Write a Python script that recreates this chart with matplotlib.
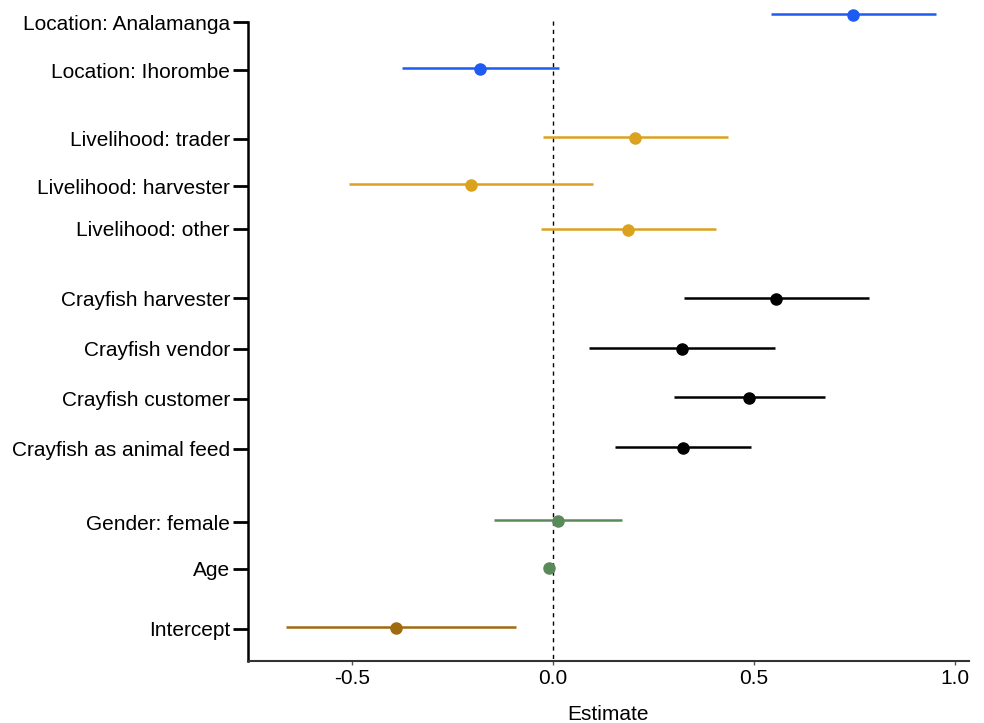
import matplotlib.pyplot as plt
from matplotlib import transforms

plt.rcParams['font.family'] = ['Liberation Sans', 'DejaVu Sans']

labels = ['Location: Analamanga', 'Location: Ihorombe',
          'Livelihood: trader', 'Livelihood: harvester', 'Livelihood: other',
          'Crayfish harvester', 'Crayfish vendor', 'Crayfish customer',
          'Crayfish as animal feed',
          'Gender: female', 'Age', 'Intercept']
estimate = [0.746, -0.182, 0.204, -0.204, 0.187, 0.555, 0.321, 0.488, 0.323,
            0.012, -0.010, -0.390]
lower = [0.542, -0.376, -0.025, -0.507, -0.030, 0.326, 0.090, 0.301, 0.154,
         -0.147, -0.016, -0.664]
upper = [0.953, 0.015, 0.435, 0.100, 0.405, 0.786, 0.552, 0.677, 0.493,
         0.172, -0.004, -0.092]
group = ['loc', 'loc', 'liv', 'liv', 'liv', 'cray', 'cray', 'cray', 'cray',
         'demo', 'demo', 'int']

colors = {'loc': '#1E5BF0', 'liv': '#DAA21E', 'cray': '#000000',
          'demo': '#5A8A5A', 'int': '#A06A10'}

# row layout (rows counted downward, groups separated by gaps)
tick_rows = [22, 70, 139, 186, 229, 298, 349, 399, 449, 522, 569, 629]
mark_rows = [14, 68, 137, 184, 229, 298, 348, 397, 447, 520, 567, 627]

fig = plt.figure(figsize=(9.84, 7.23), dpi=100)
ax = fig.add_axes([248 / 984, 1 - 661 / 723, (969 - 248) / 984, (661 - 6) / 723])

for i in range(len(labels)):
    c = colors[group[i]]
    ax.plot([lower[i], upper[i]], [mark_rows[i], mark_rows[i]], color=c, lw=1.8,
            solid_capstyle='butt', zorder=2)
    ax.plot(estimate[i], mark_rows[i] + 1, 'o', color=c, ms=8, zorder=3)

ax.plot([0, 0], [21, 661], ls=(0, (3, 3)), color='black', lw=1, zorder=1)

ax.set_xlim((248 - 553) / 402, (969 - 553) / 402)
ax.set_ylim(661, 6)

ax.set_yticks(tick_rows)
ax.set_yticklabels(labels, fontsize=15)
ax.set_xticks([-0.5, 0.0, 0.5, 1.0])
ax.set_xticklabels(['-0.5', '0.0', '0.5', '1.0'], fontsize=15)
ax.set_xlabel('Estimate', fontsize=15, labelpad=12)

# labels sit a little above their ticks in the original
shift = transforms.ScaledTranslation(0, 2.5 / 72, fig.dpi_scale_trans)
for lab in ax.get_yticklabels():
    lab.set_transform(lab.get_transform() + shift)

ax.spines['top'].set_visible(False)
ax.spines['right'].set_visible(False)
ax.spines['left'].set_bounds(661, 22)
ax.spines['left'].set_linewidth(1.8)
ax.spines['bottom'].set_linewidth(1.5)
ax.spines['bottom'].set_color('#333333')
ax.tick_params(axis='y', length=11, width=2, pad=2, colors='black')
ax.tick_params(axis='x', length=3, width=1, direction='out', color='#555555', pad=3)

fig.savefig('out.png', dpi=100, facecolor='white')
